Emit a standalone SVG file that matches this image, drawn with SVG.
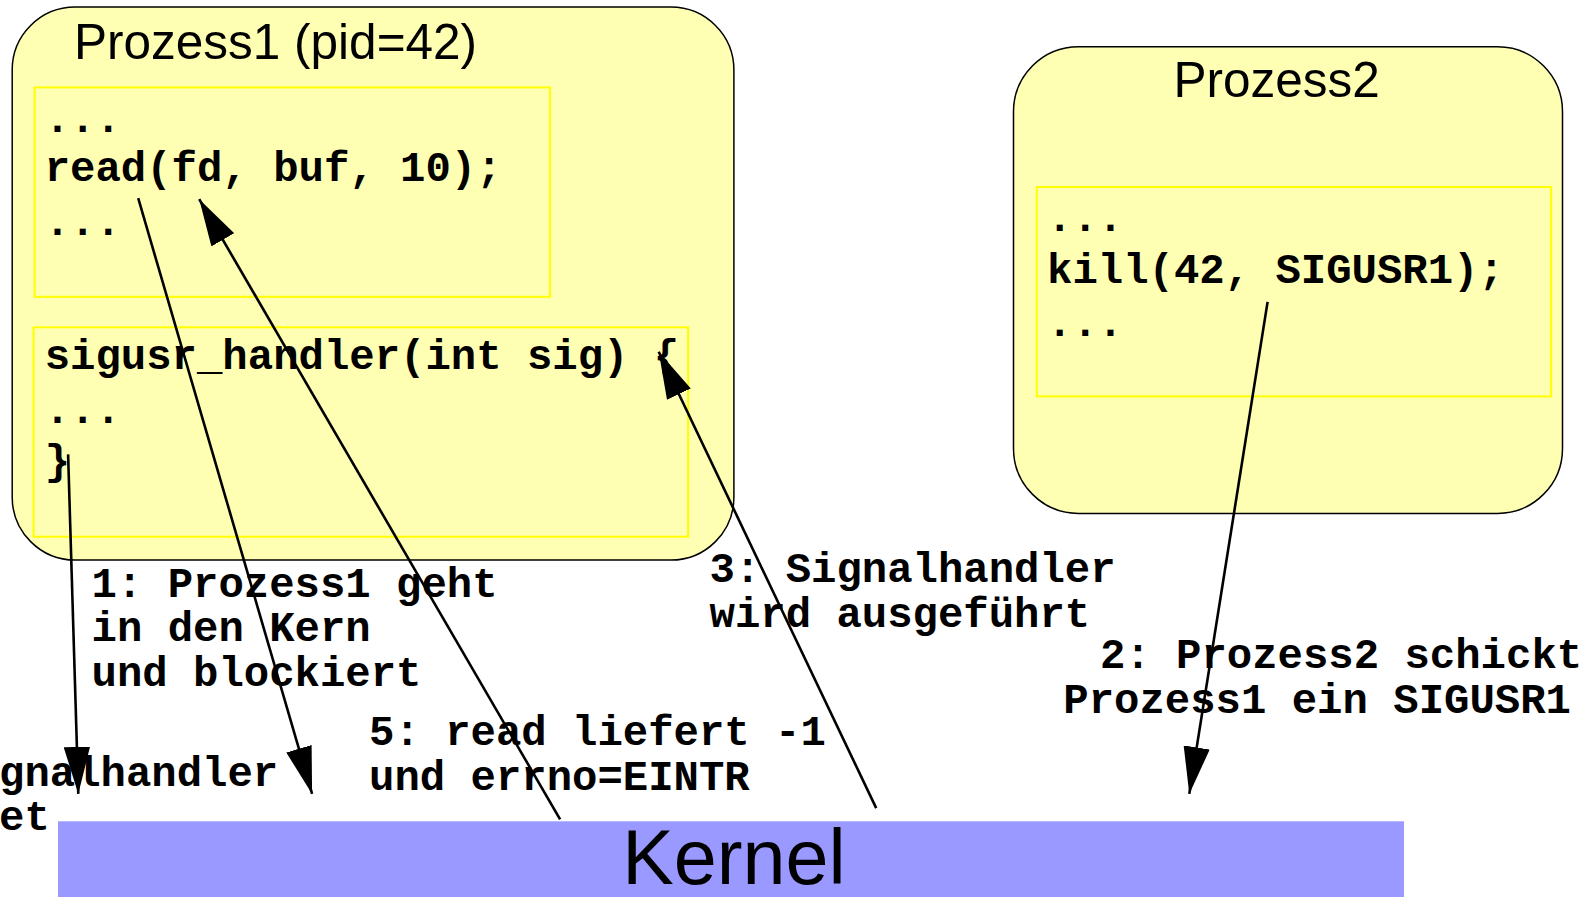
<svg xmlns="http://www.w3.org/2000/svg" width="1593" height="897" viewBox="0 0 1593 897">
<style>
.proc{fill:#ffffb3;stroke:#000;stroke-width:1.5}
.code{fill:#ffffb3;stroke:#ffff00;stroke-width:2}
.title{font-family:"Liberation Sans",Arial,sans-serif;font-size:49.5px;fill:#000}
.mono{font-family:"Liberation Mono","Courier New",monospace;font-weight:bold;font-size:42.3px;fill:#000}
.conn{stroke:#000;stroke-width:2.6;fill:none;marker-end:url(#ah)}
</style>
<defs>
<marker id="ah" viewBox="0 0 47 26.4" refX="47" refY="13.2" markerWidth="47" markerHeight="26.4" markerUnits="userSpaceOnUse" orient="auto">
<path d="M0,0 L47,13.2 L0,26.4 z" fill="#000"/>
</marker>
</defs>
<rect width="1593" height="897" fill="#fff"/>
<g id="kernel">
<rect x="58" y="821.3" width="1346" height="76" fill="#9999ff"/>
<text x="734" y="884" text-anchor="middle" font-family="'Liberation Sans',Arial,sans-serif" font-size="77.3">Kernel</text>
</g>
<g id="prozess1">
<rect class="proc" x="12.2" y="7.1" width="721.7" height="553" rx="63" ry="63"/>
<text class="title" x="74" y="58.5">Prozess1 (pid=42)</text>
</g>
<g id="code1">
<rect class="code" x="34.6" y="87.4" width="515.4" height="209.4"/>
<text class="mono" x="44.7" y="132">...</text>
<text class="mono" x="44.7" y="181">read(fd, buf, 10);</text>
<text class="mono" x="44.7" y="235">...</text>
</g>
<g id="handler">
<rect class="code" x="33.5" y="327.3" width="654.6" height="209.4"/>
<text class="mono" x="44.7" y="369">sigusr_handler(int sig) {</text>
<text class="mono" x="44.7" y="423">...</text>
<text class="mono" x="44.7" y="474">}</text>
</g>
<g id="prozess2">
<rect class="proc" x="1013.5" y="46.8" width="549" height="466.6" rx="65" ry="65"/>
<text class="title" x="1276.7" y="97" text-anchor="middle">Prozess2</text>
</g>
<g id="code2">
<rect class="code" x="1036.8" y="187" width="514.3" height="209.4"/>
<text class="mono" x="1047" y="230.7">...</text>
<text class="mono" x="1047" y="282.5">kill(42, SIGUSR1);</text>
<text class="mono" x="1047" y="336.4">...</text>
</g>
<g id="connectors">
<line class="conn" x1="68.1" y1="454.4" x2="78.3" y2="793.9"/>
<line class="conn" x1="138.2" y1="198.2" x2="312.1" y2="793.9"/>
<line class="conn" x1="560.1" y1="819.3" x2="199.2" y2="199.2"/>
<line class="conn" x1="876.2" y1="808.1" x2="658.7" y2="351.7"/>
<line class="conn" x1="1267.6" y1="301.9" x2="1189.3" y2="793.9"/>
</g>
<g id="labels">
<text class="mono" x="91.5" y="596.7">1: Prozess1 geht</text>
<text class="mono" x="91.5" y="641.4">in den Kern</text>
<text class="mono" x="91.5" y="686.1">und blockiert</text>
<text class="mono" x="369" y="745.1">5: read liefert -1</text>
<text class="mono" x="369" y="789.8">und errno=EINTR</text>
<text class="mono" x="709.5" y="582.4">3: Signalhandler</text>
<text class="mono" x="709.5" y="627.1">wird ausgeführt</text>
<text class="mono" x="1099.9" y="667.8">2: Prozess2 schickt</text>
<text class="mono" x="1063.3" y="712.5">Prozess1 ein SIGUSR1</text>
<text class="mono" x="-1" y="785.7">gnalhandler</text>
<text class="mono" x="-1" y="830.4">et</text>
</g>
</svg>
